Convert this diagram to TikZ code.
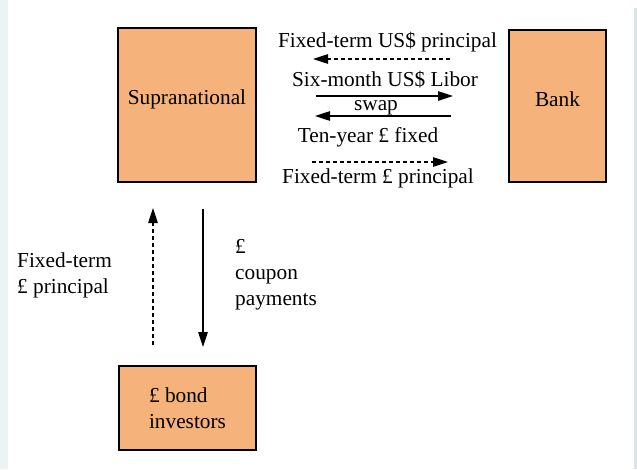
\documentclass[tikz,border=0pt]{standalone}
\usepackage{fontspec}
\setmainfont{Liberation Serif}
\usetikzlibrary{arrows.meta}
\definecolor{boxfill}{RGB}{245,178,122}
\definecolor{edgetint}{RGB}{236,243,242}
\definecolor{rimtint}{RGB}{216,230,229}
\begin{document}
\begin{tikzpicture}[x=1pt,y=-1pt,
  every node/.style={font=\fontsize{21.3}{26}\selectfont,inner sep=0pt},
  party/.style={draw=black,fill=boxfill,line width=2pt},
  flow/.style={line width=1.1pt,-{Triangle[length=15pt,width=9.5pt]}},
  promise/.style={flow,dash pattern=on 4pt off 3pt}]
\useasboundingbox (0,0) rectangle (637,469);
\fill[edgetint] (0,0) rectangle (8,469);
\fill[rimtint] (634,8) rectangle (637,469);

% the three parties
\node[party,minimum width=138pt,minimum height=154pt] (supra) at (187,105) {\raisebox{6pt}[\height][\depth]{Supranational}};
\node[party,minimum width=97pt,minimum height=152pt] (bank) at (557.5,106) {\raisebox{7pt}[\height][\depth]{Bank}};
\node[party,minimum width=137pt,minimum height=84pt,align=left] (bond) at (187.5,408) {\pounds\ bond\\investors};

% swap flows
\coordinate (usdR) at (450,59);
\coordinate (usdL) at (313,59);
\coordinate (liborL) at (316,96);
\coordinate (liborR) at (453,96);
\coordinate (fixR) at (451,116);
\coordinate (fixL) at (315,116);
\coordinate (gbpL) at (312,162);
\coordinate (gbpR) at (448,162);
\draw[promise] (usdR) -- (usdL);
\draw[flow] (liborL) -- (liborR);
\draw[flow] (fixR) -- (fixL);
\draw[promise] (gbpL) -- (gbpR);

\node[anchor=base] (usdtxt) at (387.5,47) {Fixed-term US\$ principal};
\node[anchor=base] (libortxt) at (385,86) {Six-month US\$ Libor};
\node[anchor=base] (swaptxt) at (376,110) {swap};
\node[anchor=base] (fixtxt) at (368,142) {Ten-year \pounds\ fixed};
\node[anchor=base] (gbptxt) at (378,183) {Fixed-term \pounds\ principal};

% bond flows
\coordinate (upB) at (153,345);
\coordinate (upT) at (153,208);
\coordinate (downT) at (203,209);
\coordinate (downB) at (203,347);
\draw[promise] (upB) -- (upT);
\draw[flow] (downT) -- (downB);

\node[anchor=north west,align=left] (principaltxt) at (17,252.5) {Fixed-term\\\pounds\ principal};
\node[anchor=north west,align=left] (coupontxt) at (235,239.5) {\pounds\\coupon\\payments};
\end{tikzpicture}
\end{document}
